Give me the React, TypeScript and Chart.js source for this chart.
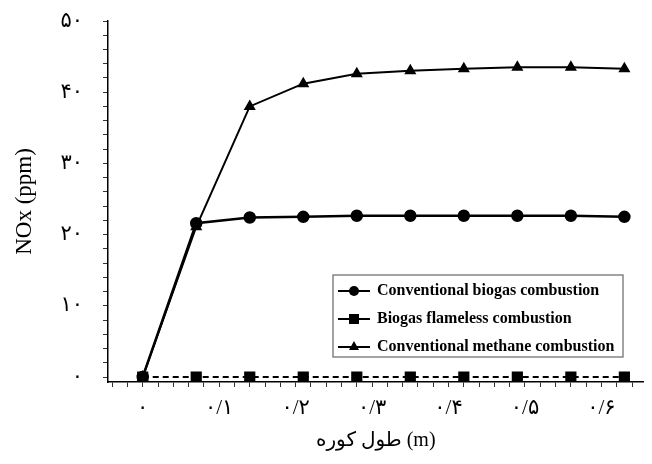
import { useEffect, useRef } from 'react';
import { Chart, registerables } from 'chart.js';

Chart.register(...registerables);

// ---- data ----
const X_VALUES = [0, 0.07, 0.14, 0.21, 0.28, 0.35, 0.42, 0.49, 0.56, 0.63];
const BIOGAS = [0, 21.6, 22.4, 22.5, 22.65, 22.65, 22.65, 22.65, 22.65, 22.5];
const FLAMELESS = [0, 0, 0, 0, 0, 0, 0, 0, 0, 0];
const METHANE = [0, 21.1, 38.0, 41.2, 42.6, 43.0, 43.3, 43.5, 43.5, 43.3];
const SERIES_NAMES = [
  'Conventional biogas combustion',
  'Biogas flameless combustion',
  'Conventional methane combustion',
];

const X_MAJOR = [0, 0.1, 0.2, 0.3, 0.4, 0.5, 0.6];
const X_LABELS = ['۰', '۰/۱', '۰/۲', '۰/۳', '۰/۴', '۰/۵', '۰/۶'];
const X_MINOR = [-0.04, -0.02, 0.02, 0.04, 0.06, 0.08, 0.12, 0.14, 0.16, 0.18, 0.22, 0.24, 0.26, 0.28, 0.32, 0.34, 0.36, 0.38, 0.42, 0.44, 0.46, 0.48, 0.52, 0.54, 0.56, 0.58, 0.62, 0.64];
const Y_MAJOR = [0, 10, 20, 30, 40, 50];
const Y_LABELS = ['۰', '۱۰', '۲۰', '۳۰', '۴۰', '۵۰'];
const Y_MINOR = [2, 4, 6, 8, 12, 14, 16, 18, 22, 24, 26, 28, 32, 34, 36, 38, 42, 44, 46, 48];

const X_TITLE = 'طول کوره (m)';
const Y_TITLE = 'NOx (ppm)';

const SERIF = "'Liberation Serif', 'Times New Roman', 'DejaVu Sans', serif";

function labelFor(majors: number[], labels: string[], v: number) {
  const i = majors.findIndex((m) => Math.abs(m - v) < 1e-6);
  return i >= 0 ? labels[i] : '';
}

const legendPlugin = {
  id: 'insideLegend',
  afterDraw(chart: any) {
    const ctx = chart.ctx;
    const boxL = 333, boxT = 275, boxW = 290, boxH = 82;
    ctx.save();
    ctx.strokeStyle = '#666';
    ctx.lineWidth = 1.2;
    ctx.fillStyle = '#fff';
    ctx.fillRect(boxL, boxT, boxW, boxH);
    ctx.strokeRect(boxL, boxT, boxW, boxH);
    const rows = [291, 319, 347];
    chart.data.datasets.forEach((ds: any, i: number) => {
      const y = rows[i];
      ctx.strokeStyle = '#000';
      ctx.lineWidth = 2;
      ctx.setLineDash([]);
      ctx.beginPath();
      ctx.moveTo(338, y);
      ctx.lineTo(370, y);
      ctx.stroke();
      ctx.fillStyle = '#000';
      const style = ds.pointStyle;
      ctx.beginPath();
      if (style === 'circle') {
        ctx.arc(354, y, 5, 0, Math.PI * 2);
      } else if (style === 'rect') {
        ctx.rect(349, y - 5, 10, 10);
      } else {
        ctx.moveTo(354, y - 6);
        ctx.lineTo(359, y + 3);
        ctx.lineTo(349, y + 3);
        ctx.closePath();
      }
      ctx.fill();
      ctx.font = `bold 16px ${SERIF}`;
      ctx.textBaseline = 'middle';
      ctx.textAlign = 'left';
      ctx.fillText(ds.label, 377, y);
    });
    ctx.restore();
  },
};

export default function App() {
  const ref = useRef<HTMLCanvasElement | null>(null);

  useEffect(() => {
    if (!ref.current) return;
    const mk = (ys: number[]) => X_VALUES.map((x, i) => ({ x, y: ys[i] }));
    const chart = new Chart(ref.current, {
      type: 'line',
      data: {
        datasets: [
          {
            label: SERIES_NAMES[0],
            data: mk(BIOGAS),
            borderColor: '#000',
            backgroundColor: '#000',
            borderWidth: 2.5,
            pointStyle: 'circle',
            pointRadius: 5,
            tension: 0,
          },
          {
            label: SERIES_NAMES[1],
            data: mk(FLAMELESS),
            borderColor: '#000',
            backgroundColor: '#000',
            borderWidth: 2,
            borderDash: [6, 4],
            pointStyle: 'rect',
            pointRadius: 6.5,
            tension: 0,
          },
          {
            label: SERIES_NAMES[2],
            data: mk(METHANE),
            borderColor: '#000',
            backgroundColor: '#000',
            borderWidth: 2,
            pointStyle: 'triangle',
            pointRadius: 5,
            tension: 0,
          },
        ],
      },
      options: {
        animation: false,
        responsive: false,
        maintainAspectRatio: false,
        layout: { padding: { top: 21, right: 4, left: 0, bottom: 0 } },
        plugins: { legend: { display: false }, tooltip: { enabled: false } },
        scales: {
          x: {
            type: 'linear',
            min: -0.0454,
            max: 0.655,
            afterBuildTicks: (scale: any) => {
              scale.ticks = [...X_MAJOR, ...X_MINOR].sort((a, b) => a - b).map((v) => ({ value: v }));
            },
            afterFit: (scale: any) => {
              scale.height = 82;
              scale.paddingLeft = 0;
              scale.paddingRight = 0;
            },
            border: { display: true, color: '#000', width: 1.5 },
            grid: {
              drawOnChartArea: false,
              drawTicks: true,
              tickLength: 5,
              color: '#333',
              lineWidth: 1,
            },
            ticks: {
              autoSkip: false,
              maxRotation: 0,
              minRotation: 0,
              padding: 9,
              color: '#000',
              font: { family: SERIF, size: 21 },
              callback: (v: any) => labelFor(X_MAJOR, X_LABELS, Number(v)),
            },
            title: {
              display: true,
              text: X_TITLE,
              color: '#000',
              font: { family: SERIF, size: 20 },
              padding: { top: 0, bottom: 11 },
            },
          },
          y: {
            type: 'linear',
            min: -0.7,
            max: 50,
            afterBuildTicks: (scale: any) => {
              scale.ticks = [...Y_MAJOR, ...Y_MINOR].sort((a, b) => a - b).map((v) => ({ value: v }));
            },
            afterFit: (scale: any) => {
              scale.width = 108;
              scale.paddingTop = 0;
              scale.paddingBottom = 0;
            },
            border: { display: true, color: '#000', width: 1.5 },
            grid: {
              drawOnChartArea: false,
              drawTicks: true,
              tickLength: 5,
              color: '#333',
              lineWidth: 1,
            },
            ticks: {
              autoSkip: false,
              padding: 20,
              color: '#000',
              font: { family: SERIF, size: 21 },
              callback: (v: any) => labelFor(Y_MAJOR, Y_LABELS, Number(v)),
            },
            title: {
              display: true,
              text: Y_TITLE,
              color: '#000',
              font: { family: SERIF, size: 23 },
              padding: { top: 11, bottom: 0 },
            },
          },
        },
      },
      plugins: [legendPlugin],
    } as any);
    return () => chart.destroy();
  }, []);

  return (
    <div style={{ position: 'fixed', left: 0, top: 0, width: 652, height: 464, background: '#fff' }}>
      <canvas ref={ref} width={652} height={464} style={{ width: 652, height: 464, display: 'block' }} />
    </div>
  );
}
